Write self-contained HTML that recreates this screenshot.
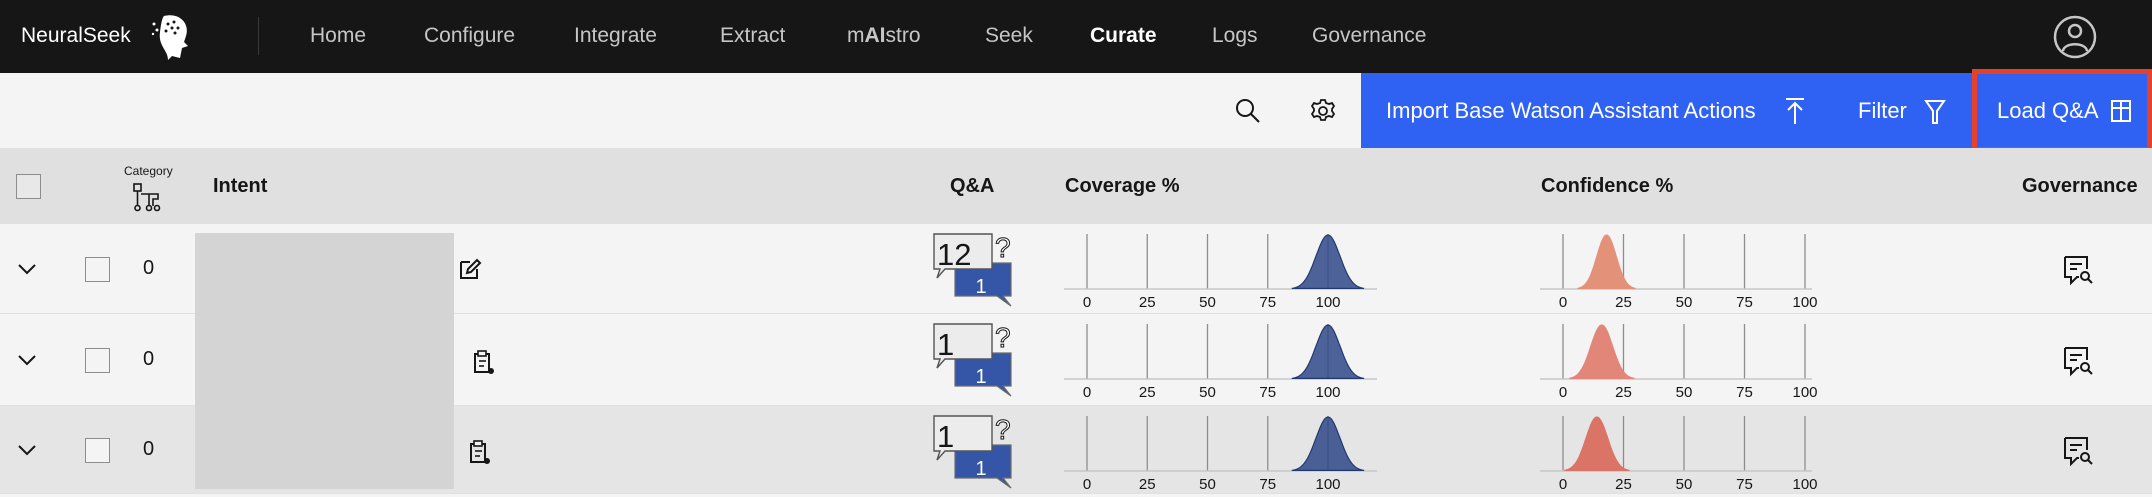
<!DOCTYPE html>
<html><head><meta charset="utf-8">
<style>
*{margin:0;padding:0;box-sizing:border-box}
body{width:2152px;height:494px;overflow:hidden;background:#f4f4f4;font-family:"Liberation Sans",sans-serif;position:relative}
.a{position:absolute;white-space:nowrap}
.nav{color:#c6c6c6;font-size:21px;top:24px}
.hdr{font-weight:bold;font-size:20px;color:#161616;top:175px}
.cb{position:absolute;width:25px;height:25px;border:1.5px solid #8d8d8d;background:#f4f4f4}
svg{overflow:visible}
</style></head><body>
<div class="a" style="left:0;top:0;width:2152px;height:73px;background:#161616"></div>
<div class="a nav" style="left:21px;color:#fff">NeuralSeek</div>
<svg class="a" style="left:150px;top:12px" width="44" height="50" viewBox="0 0 44 50"><path d="M14 4 C30 0 40 12 36 24 L34 30 L38 34 L32 36 L30 46 L22 44 L18 48 C18 38 8 34 10 20 C11 12 12 6 14 4Z" fill="#fff"/><g fill="#161616"><circle cx="18" cy="12" r="1.5"/><circle cx="24" cy="10" r="1.5"/><circle cx="22" cy="16" r="1.5"/><circle cx="28" cy="16" r="1.5"/><circle cx="16" cy="19" r="1.5"/><circle cx="25" cy="21" r="1.5"/></g><g fill="#fff"><circle cx="4" cy="12" r="1.5"/><circle cx="7" cy="18" r="1.5"/><circle cx="3" cy="22" r="1.2"/></g></svg>
<div class="a" style="left:258px;top:17px;width:1px;height:38px;background:#393939"></div>
<div class="a nav" style="left:310px">Home</div>
<div class="a nav" style="left:424px">Configure</div>
<div class="a nav" style="left:574px">Integrate</div>
<div class="a nav" style="left:720px">Extract</div>
<div class="a nav" style="left:847px">m<b>AI</b>stro</div>
<div class="a nav" style="left:985px">Seek</div>
<div class="a nav" style="left:1090px;color:#fff;font-weight:bold">Curate</div>
<div class="a nav" style="left:1212px">Logs</div>
<div class="a nav" style="left:1312px">Governance</div>
<svg class="a" style="left:2052px;top:14px" width="46" height="46" viewBox="0 0 46 46"><circle cx="23" cy="23" r="20" fill="none" stroke="#c6c6c6" stroke-width="2.5"/><circle cx="23" cy="17" r="6" fill="none" stroke="#c6c6c6" stroke-width="2.5"/><path d="M11 37 C12 28 34 28 35 37" fill="none" stroke="#c6c6c6" stroke-width="2.5"/></svg>

<div class="a" style="left:0;top:73px;width:2152px;height:75px;background:#f4f4f4"></div>
<svg class="a" style="left:1235px;top:98px" width="26" height="26" viewBox="0 0 26 26"><circle cx="10" cy="10" r="8" fill="none" stroke="#161616" stroke-width="2"/><line x1="16" y1="16" x2="24" y2="24" stroke="#161616" stroke-width="2"/></svg>
<svg class="a" style="left:1310px;top:98px" width="26" height="26" viewBox="0 0 26 26"><circle cx="13" cy="13" r="4" fill="none" stroke="#161616" stroke-width="1.8"/><path d="M11 2h4l1 3 3 1 3-1 2 3-2 3v2l2 3-2 3-3-1-3 1-1 3h-4l-1-3-3-1-3 1-2-3 2-3v-2L2 8l2-3 3 1 3-1z" fill="none" stroke="#161616" stroke-width="1.8"/></svg>
<div class="a" style="left:1361px;top:73px;width:791px;height:77px;background:#2f62f3"></div>
<div class="a" style="left:1386px;top:98px;color:#fff;font-size:22px">Import Base Watson Assistant Actions</div>
<svg class="a" style="left:1784px;top:97px" width="22" height="28" viewBox="0 0 22 28"><line x1="2" y1="2" x2="20" y2="2" stroke="#fff" stroke-width="2"/><line x1="11" y1="6" x2="11" y2="27" stroke="#fff" stroke-width="2"/><path d="M4 13 L11 6 L18 13" fill="none" stroke="#fff" stroke-width="2"/></svg>
<div class="a" style="left:1858px;top:98px;color:#fff;font-size:22px">Filter</div>
<svg class="a" style="left:1924px;top:99px" width="22" height="26" viewBox="0 0 22 26"><path d="M2 2 H20 L13 12 V24 H9 V12 Z" fill="none" stroke="#fff" stroke-width="2"/></svg>
<div class="a" style="left:1972px;top:69px;width:180px;height:83px;border:5px solid #e8402a"></div>
<div class="a" style="left:1997px;top:98px;color:#fff;font-size:22px">Load Q&amp;A</div>
<svg class="a" style="left:2110px;top:99px" width="22" height="24" viewBox="0 0 22 24"><rect x="2" y="2" width="18" height="20" fill="none" stroke="#fff" stroke-width="2"/><line x1="2" y1="9" x2="20" y2="9" stroke="#fff" stroke-width="2"/><line x1="11" y1="2" x2="11" y2="22" stroke="#fff" stroke-width="2"/></svg>

<div class="a" style="left:0;top:148px;width:2152px;height:76px;background:#e0e0e0"></div>
<div class="cb" style="left:16px;top:174px;background:#e8e8e8"></div>
<div class="a" style="left:124px;top:164px;font-size:12px;color:#161616">Category</div>
<svg class="a" style="left:132px;top:182px" width="32" height="30" viewBox="0 0 32 30"><g fill="none" stroke="#161616" stroke-width="1.6"><rect x="2" y="2" width="7" height="7"/><line x1="5.5" y1="9" x2="5.5" y2="24"/><path d="M9 12 H17 V24 M17 12 H26 V17 H21 V24"/><circle cx="5.5" cy="26" r="2.5"/><circle cx="17" cy="26" r="2.5"/><circle cx="25" cy="26" r="2.5"/></g></svg>
<div class="a hdr" style="left:213px">Intent</div>
<div class="a hdr" style="left:950px">Q&amp;A</div>
<div class="a hdr" style="left:1065px">Coverage %</div>
<div class="a hdr" style="left:1541px">Confidence %</div>
<div class="a hdr" style="left:2022px">Governance</div>

<div id="rows"></div>
<div class="a" style="left:195px;top:233px;width:259px;height:256px;background:#d4d4d4"></div>

<script>
// chart data
const rowTops = [224, 314, 406];
const coverageMeans = [100, 100, 100];
const coverageSpreads = [5, 5, 5];
const confidenceMeans = [18, 16, 14];
const confidenceSpreads = [4, 4.5, 4.5];
const tickLabels = [0, 25, 50, 75, 100];
const qaCounts = [12, 1, 1];
const qaSub = [1, 1, 1];
const confidenceColors = ['#e4917a', '#e3867a', '#d97466'];

const NS = 'http://www.w3.org/2000/svg';
const rows = document.getElementById('rows');
const rowH = [90, 92, 88];
const rowBg = ['#f4f4f4', '#f4f4f4', '#e5e5e5'];

function makeChart(x0, x100, xEnd, mean, sd, fill, stroke, top, name) {
  const svg = document.createElementNS(NS, 'svg');
  
  
  const left = x0 - 23, w = xEnd - left;
  svg.setAttribute('width', w); svg.setAttribute('height', 82);
  svg.style.position = 'absolute'; svg.style.left = left + 'px'; svg.style.top = top + 'px';
  svg.style.overflow = 'visible';
  const sx = v => x0 - left + v * (x100 - x0) / 100;
  const base = 56, ptop = 2;
  tickLabels.forEach(t => {
    const l = document.createElementNS(NS, 'line');
    
    
    l.setAttribute('x1', sx(t)); l.setAttribute('x2', sx(t));
    l.setAttribute('y1', 1); l.setAttribute('y2', base);
    l.setAttribute('stroke', '#8d8d8d'); l.setAttribute('stroke-width', 1.3);
    svg.appendChild(l);
    const tx = document.createElementNS(NS, 'text');
    
    
    tx.setAttribute('x', sx(t)); tx.setAttribute('y', 74);
    tx.setAttribute('text-anchor', 'middle'); tx.setAttribute('font-size', 15);
    tx.setAttribute('font-family', 'Liberation Sans, sans-serif'); tx.setAttribute('fill', '#161616');
    tx.textContent = t;
    svg.appendChild(tx);
  });
  const bl = document.createElementNS(NS, 'line');
  
  
  bl.setAttribute('x1', 0); bl.setAttribute('x2', w); bl.setAttribute('y1', base); bl.setAttribute('y2', base);
  bl.setAttribute('stroke', '#c6c6c6'); bl.setAttribute('stroke-width', 1.5);
  svg.appendChild(bl);
  let d = '';
  for (let v = mean - 3 * sd; v <= mean + 3 * sd + 0.01; v += sd / 10) {
    const y = base - (base - ptop) * Math.exp(-0.5 * ((v - mean) / sd) ** 2);
    d += (d ? 'L' : 'M') + sx(v).toFixed(1) + ' ' + y.toFixed(1);
  }
  d += 'Z';
  const p = document.createElementNS(NS, 'path');
  
  
  p.setAttribute('d', d); p.setAttribute('fill', fill); p.setAttribute('stroke', stroke); p.setAttribute('stroke-width', 1.2);
  svg.appendChild(p);
  return svg;
}

rowTops.forEach((top, i) => {
  const r = document.createElement('div');
  
  
  r.className = 'a';
  r.style.cssText = `left:0;top:${top}px;width:2152px;height:${rowH[i]}px;background:${rowBg[i]};border-bottom:1px solid #e0e0e0`;
  rows.appendChild(r);
  const cy = top + rowH[i] / 2;

  const chev = document.createElementNS(NS, 'svg');
  
  
  chev.setAttribute('width', 20); chev.setAttribute('height', 12);
  chev.style.cssText = `position:absolute;left:17px;top:${cy - 6}px`;
  chev.innerHTML = '<path d="M2 2 L10 10 L18 2" fill="none" stroke="#161616" stroke-width="2"/>';
  rows.appendChild(chev);

  const cb = document.createElement('div');
  cb.className = 'cb';
  
  
  cb.style.left = '85px'; cb.style.top = (cy - 12) + 'px';
  rows.appendChild(cb);

  const z = document.createElement('div');
  z.className = 'a';
  
  
  z.style.cssText = `left:143px;top:${cy - 12}px;font-size:20px;color:#161616`;
  z.textContent = '0';
  rows.appendChild(z);

  const ic = document.createElementNS(NS, 'svg');
  ic.setAttribute('width', 24); ic.setAttribute('height', 26);
  if (i === 0) {
    
    
    ic.style.cssText = `position:absolute;left:458px;top:${cy - 12}px`;
    ic.innerHTML = '<path d="M3 5 H12 M3 5 V21 H19 V12" fill="none" stroke="#161616" stroke-width="2"/><path d="M9 16 L10 12 L19 3 L22 6 L13 15 Z" fill="none" stroke="#161616" stroke-width="2"/>';
  } else {
    
    
    ic.style.cssText = `position:absolute;left:${i === 1 ? 472 : 468}px;top:${cy - 10}px`;
    ic.innerHTML = '<rect x="3" y="4" width="14" height="18" fill="none" stroke="#161616" stroke-width="2"/><rect x="6" y="1" width="8" height="5" fill="#f4f4f4" stroke="#161616" stroke-width="1.6"/><line x1="7" y1="11" x2="14" y2="11" stroke="#161616" stroke-width="1.6"/><line x1="7" y1="16" x2="12" y2="16" stroke="#161616" stroke-width="1.6"/><circle cx="19" cy="21" r="3" fill="#161616"/>';
  }
  rows.appendChild(ic);

  const qa = document.createElementNS(NS, 'svg');
  
  
  qa.setAttribute('width', 84); qa.setAttribute('height', 80);
  qa.style.cssText = `position:absolute;left:931px;top:${top + 7}px`;
  qa.innerHTML =
    `<path d="M24 32 H80 V65 H72 L80 75 L66 65 H24 Z" fill="#3556a6" stroke="#6b6b6b" stroke-width="1.2"/>` +
    `<text x="50" y="62" font-size="20" fill="#fff" text-anchor="middle" font-family="Liberation Sans, sans-serif">${qaSub[i]}</text>` +
    `<path d="M3 3 H61 V38 H14 L6 47 L9 38 H3 Z" fill="#ececec" stroke="#555" stroke-width="1.4"/>` +
    `<text x="6" y="34" font-size="31" fill="#161616" font-family="Liberation Sans, sans-serif">${qaCounts[i]}</text>` +
    `<text x="64" y="26" font-size="28" fill="#fff" stroke="#161616" stroke-width="1" font-family="Liberation Sans, sans-serif">?</text>`;
  rows.appendChild(qa);

  rows.appendChild(makeChart(1087, 1328, 1377, coverageMeans[i], coverageSpreads[i], 'rgba(48,72,138,0.85)', '#23396e', top + 9, 'coverage-chart'));
  rows.appendChild(makeChart(1563, 1805, 1812, confidenceMeans[i], confidenceSpreads[i], confidenceColors[i], confidenceColors[i], top + 9, 'confidence-chart'));

  const gv = document.createElementNS(NS, 'svg');
  
  
  gv.setAttribute('width', 32); gv.setAttribute('height', 32);
  gv.style.cssText = `position:absolute;left:2062px;top:${cy - 15}px`;
  gv.innerHTML = '<path d="M3 3 H25 V15 M3 3 V23 H9 V29 L15 23 H17" fill="none" stroke="#161616" stroke-width="2"/><line x1="8" y1="10" x2="20" y2="10" stroke="#161616" stroke-width="2"/><line x1="8" y1="15" x2="15" y2="15" stroke="#161616" stroke-width="2"/><circle cx="23" cy="22" r="4" fill="none" stroke="#161616" stroke-width="2"/><line x1="26" y1="25" x2="30" y2="29" stroke="#161616" stroke-width="2"/>';
  rows.appendChild(gv);
});
</script>
</body></html>
